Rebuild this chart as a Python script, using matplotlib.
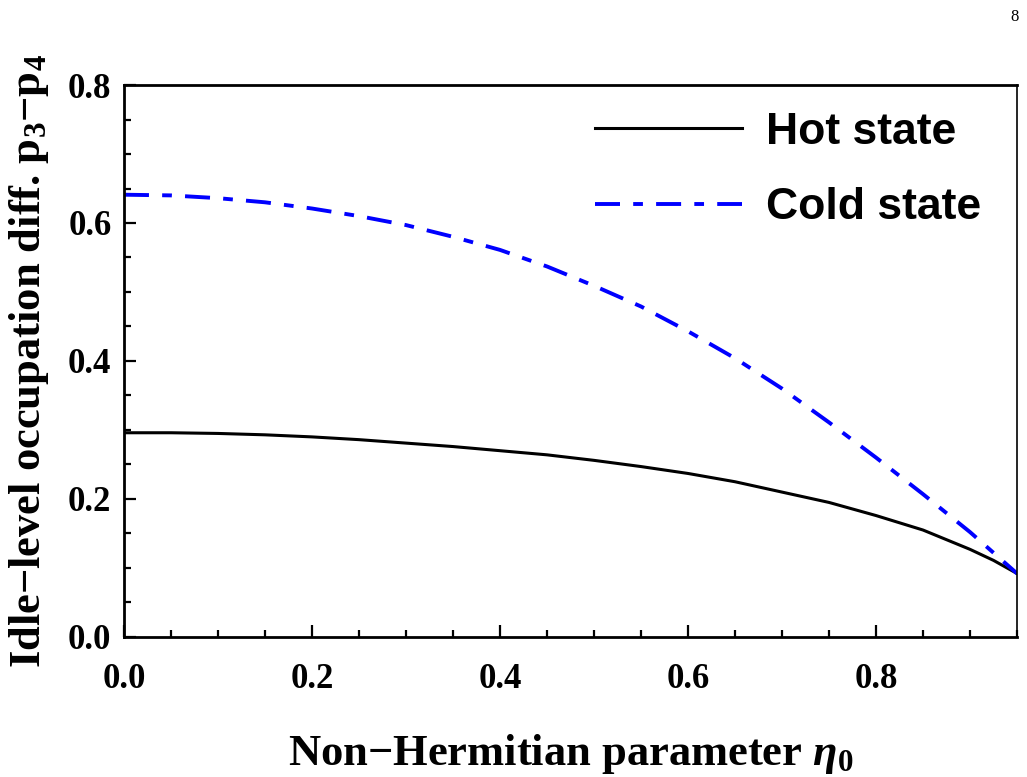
import matplotlib
matplotlib.use("Agg")
import matplotlib.pyplot as plt
from matplotlib.ticker import MultipleLocator

# values
eta = [0.0, 0.05, 0.1, 0.15, 0.2, 0.25, 0.3, 0.35, 0.4, 0.45, 0.5, 0.55,
       0.6, 0.65, 0.7, 0.75, 0.8, 0.85, 0.9, 0.925, 0.95]
hot = [0.296, 0.296, 0.295, 0.293, 0.290, 0.286, 0.281, 0.276, 0.270, 0.264,
       0.256, 0.247, 0.237, 0.225, 0.210, 0.195, 0.176, 0.155, 0.127, 0.111,
       0.092]
cold = [0.641, 0.640, 0.636, 0.630, 0.621, 0.610, 0.597, 0.580, 0.561, 0.537,
        0.509, 0.479, 0.443, 0.404, 0.360, 0.311, 0.260, 0.207, 0.152, 0.122,
        0.092]

serif = ["Liberation Serif", "DejaVu Serif"]
plt.rcParams["lines.scale_dashes"] = False
plt.rcParams["mathtext.fontset"] = "custom"
plt.rcParams["mathtext.rm"] = "Liberation Serif:bold"
plt.rcParams["mathtext.it"] = "Liberation Serif:italic:bold"
plt.rcParams["mathtext.bf"] = "Liberation Serif:bold"


def main():
    fig = plt.figure(figsize=(10.27, 7.77), dpi=100)
    ax = fig.add_axes([0.1207, 0.1802, 0.8696, 0.7104])

    ax.plot(eta, hot, color="black", lw=2.2, label="Hot state")
    ax.plot(eta, cold, color="#0000ff", lw=2.8,
            linestyle=(0, (18, 9.5, 7, 9.5)), label="Cold state")

    ax.set_xlim(0, 0.95)
    ax.set_ylim(0, 0.8)
    ax.xaxis.set_major_locator(MultipleLocator(0.2))
    ax.xaxis.set_minor_locator(MultipleLocator(0.05))
    ax.yaxis.set_major_locator(MultipleLocator(0.2))
    ax.yaxis.set_minor_locator(MultipleLocator(0.05))
    ax.xaxis.set_major_formatter(lambda v, p: f"{v:.1f}")
    ax.yaxis.set_major_formatter(lambda v, p: f"{v:.1f}")

    ax.tick_params(which="both", direction="in", top=False, right=False,
                   width=1.6)
    ax.tick_params(which="major", length=8.5)
    ax.tick_params(which="minor", length=5)
    ax.tick_params(axis="x", which="major", pad=19)
    ax.tick_params(axis="y", which="major", pad=9)
    for lab in ax.get_xticklabels() + ax.get_yticklabels():
        lab.set_family(serif)
        lab.set_fontweight("bold")
        lab.set_fontsize(25)

    for s in ax.spines.values():
        s.set_linewidth(2.0)
    ax.spines["right"].set_linewidth(1.2)

    ax.set_xlabel(r"Non$-$Hermitian parameter $\eta_0$", fontsize=32,
                  labelpad=26, family=serif, fontweight="bold")
    ax.set_ylabel(r"Idle$-$level occupation diff. p$_3$$-$p$_4$",
                  fontsize=32, labelpad=12, family=serif, fontweight="bold")

    ax.legend(loc="upper right", frameon=False,
              prop={"family": "Liberation Sans", "weight": "bold",
                    "size": 32},
              handlelength=3.3, handletextpad=0.55, labelspacing=0.78,
              borderaxespad=0.2, bbox_to_anchor=(0.99, 1.0))

    fig.text(0.992, 0.978, "8", family=serif, fontsize=12,
             ha="right", va="center")

    fig.savefig("out.png", dpi=100)


if __name__ == "__main__":
    main()
